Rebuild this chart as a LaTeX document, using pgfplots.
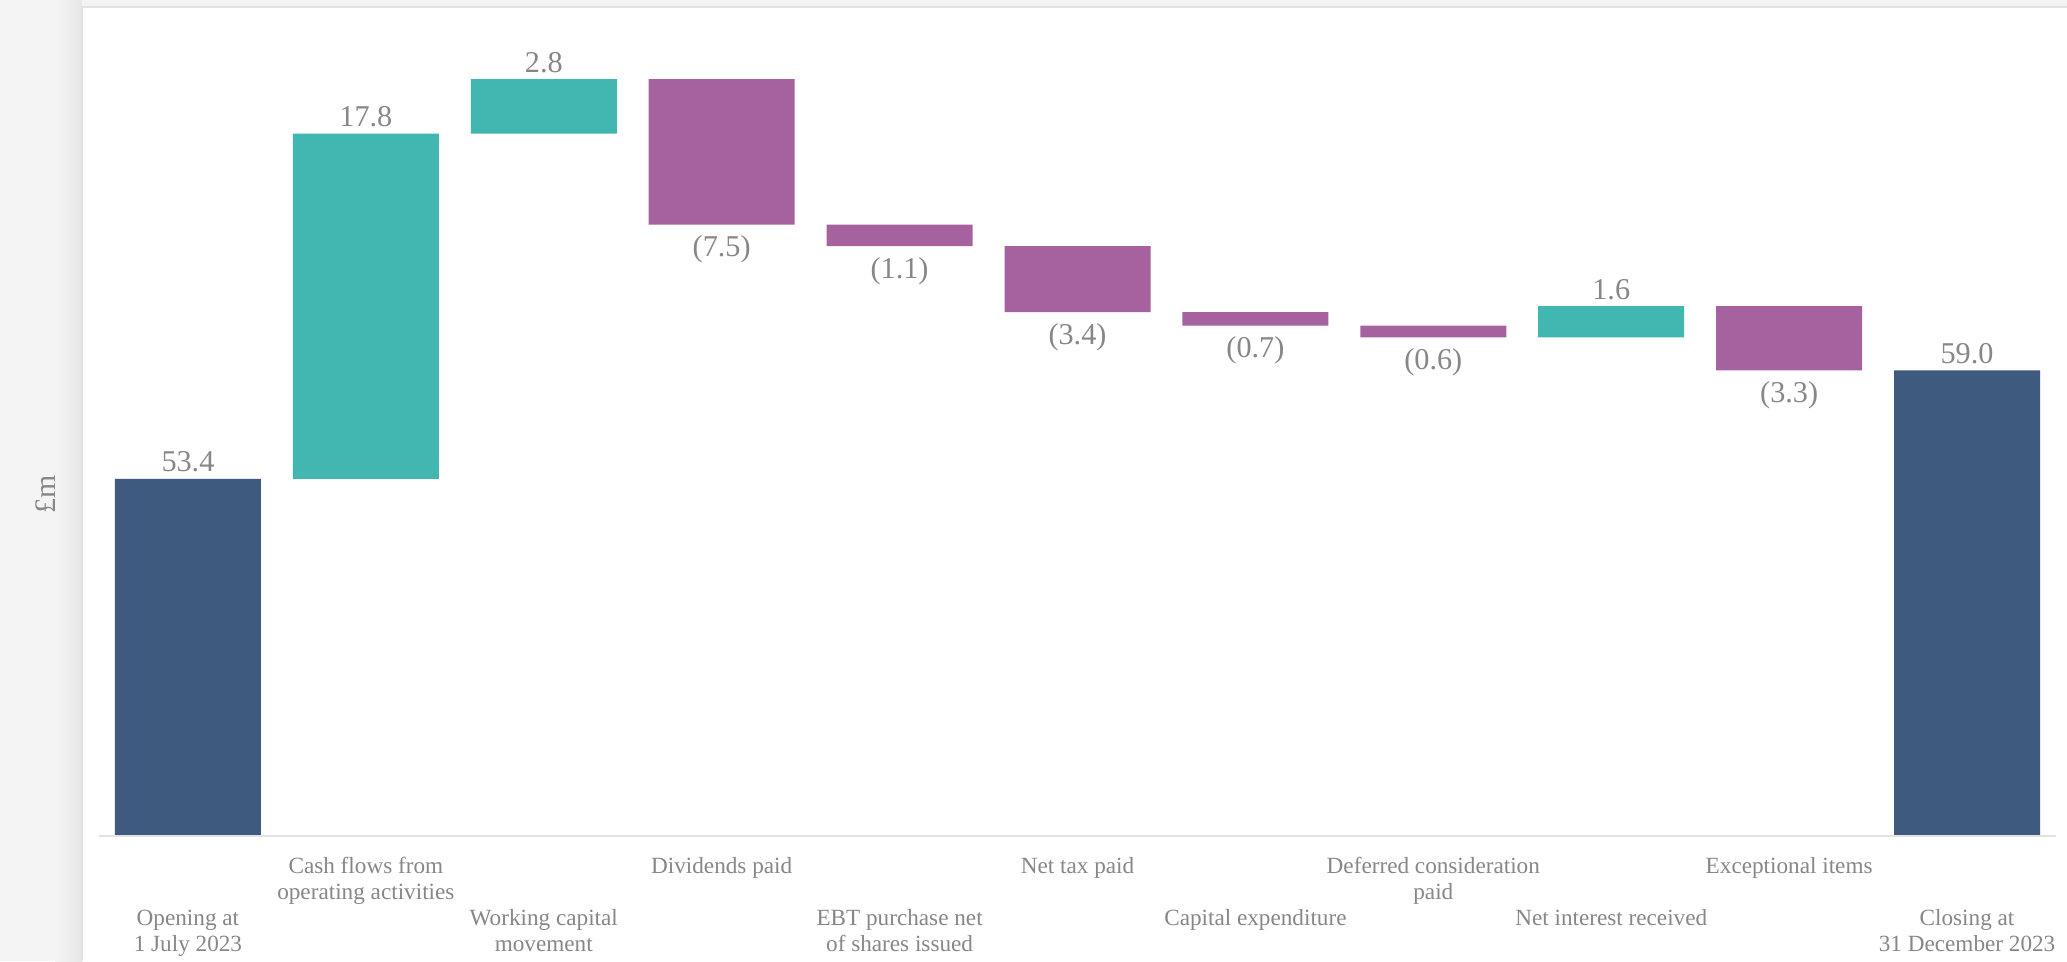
\documentclass[border=0pt]{standalone}
\usepackage{pgfplots}
\usepackage{pgfplotstable}
\pgfplotsset{compat=1.18}
\usepackage{fontspec}
\setmainfont{Liberation Serif}
\definecolor{navy}{RGB}{62,90,127}
\definecolor{teal}{RGB}{66,183,177}
\definecolor{purp}{RGB}{166,98,159}
\definecolor{txt}{RGB}{135,135,135}
\definecolor{bggray}{RGB}{244,244,244}
\definecolor{edge}{RGB}{226,226,226}

\pgfplotstableread{
x base open pos neg
0 0 53.4 0 0
1 53.4 0 17.8 0
2 71.2 0 2.8 0
3 66.5 0 0 7.5
4 65.4 0 0 1.1
5 62.0 0 0 3.4
6 61.3 0 0 0.7
7 60.7 0 0 0.6
8 60.7 0 1.6 0
9 59.0 0 0 3.3
10 0 59.0 0 0
}\bars

\pgfplotstableread{
x y label
0 53.4 53.4
1 71.2 17.8
2 74.0 2.8
8 62.3 1.6
10 59.0 59.0
}\above

\pgfplotstableread{
x y label
3 66.5 (7.5)
4 65.4 (1.1)
5 62.0 (3.4)
6 61.3 (0.7)
7 60.7 (0.6)
9 59.0 (3.3)
}\below

\begin{document}
\begin{tikzpicture}
\useasboundingbox (0,0) rectangle (20.67,9.61);
\fill[bggray] (0,0) rectangle (20.67,9.61);
\shade[left color=bggray, right color=edge!70!bggray] (0.55,0) rectangle (0.82,9.61);
\fill[white] (0.82,0) rectangle (20.67,9.54);
\draw[edge, line width=0.2mm] (0.82,0) -- (0.82,9.54) -- (20.67,9.54);
\node[rotate=90, text=txt, font={\fontsize{8.5}{10}\selectfont}] at (0.46,4.67) {£m};

\begin{axis}[
  at={(0.99cm,1.25cm)}, anchor=south west,
  scale only axis, width=19.57cm, height=8.15cm,
  xmin=-0.5, xmax=10.5, ymin=35, ymax=77,
  ybar stacked, bar width=1.46cm,
  axis x line*=bottom, axis y line=none,
  axis line style={draw=edge, line width=0.2mm, -},
  axis on top,
  major tick length=0pt,
  xtick={0,...,10},
  xticklabels={
    {\strut\\\strut\\Opening at\\1 July 2023},
    {\strut Cash flows from\\operating activities},
    {\strut\\\strut\\Working capital\\movement},
    {\strut Dividends paid},
    {\strut\\\strut\\EBT purchase net\\of shares issued},
    {\strut Net tax paid},
    {\strut\\\strut\\Capital expenditure},
    {\strut Deferred consideration\\paid},
    {\strut\\\strut\\Net interest received},
    {\strut Exceptional items},
    {\strut\\\strut\\Closing at\\31 December 2023}},
  xticklabel style={align=center, text=txt, anchor=north, inner sep=0pt, yshift=-1.85mm,
    font={\fontsize{6.6}{7.4}\selectfont}},
]
\addplot[draw=none, fill=none] table[x=x, y=base] {\bars};
\addplot[draw=none, fill=navy] table[x=x, y=open] {\bars};
\addplot[draw=none, fill=teal] table[x=x, y=pos] {\bars};
\addplot[draw=none, fill=purp] table[x=x, y=neg] {\bars};
\end{axis}

\begin{axis}[
  at={(0.99cm,1.25cm)}, anchor=south west,
  scale only axis, width=19.57cm, height=8.15cm,
  xmin=-0.5, xmax=10.5, ymin=35, ymax=77,
  hide axis, clip=false,
]
\addplot[draw=none, mark=none, nodes near coords, point meta=explicit symbolic,
  nodes near coords style={anchor=base, inner sep=0pt, yshift=0.7mm, text=txt,
    font={\fontsize{8.6}{10}\selectfont}}]
  table[x=x, y=y, meta=label] {\above};
\addplot[draw=none, mark=none, nodes near coords, point meta=explicit symbolic,
  nodes near coords style={anchor=base, inner sep=0pt, yshift=-3.2mm, text=txt,
    font={\fontsize{8.6}{10}\selectfont}}]
  table[x=x, y=y, meta=label] {\below};
\end{axis}
\end{tikzpicture}
\end{document}
